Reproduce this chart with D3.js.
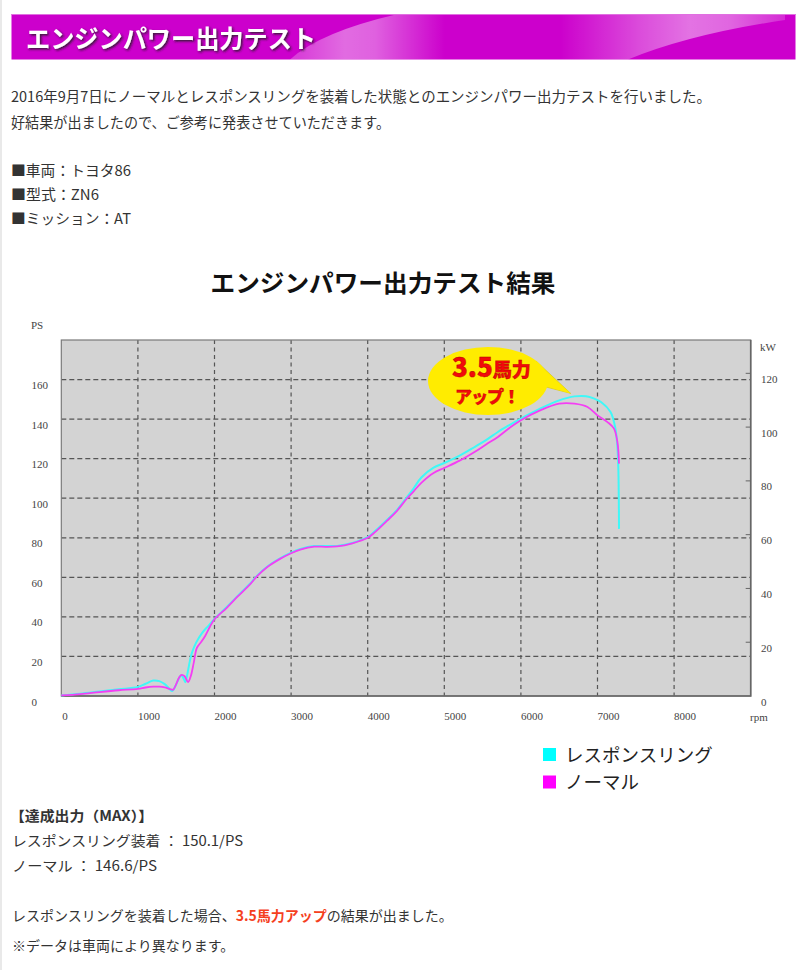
<!DOCTYPE html>
<html>
<head>
<meta charset="utf-8">
<script src="https://cdn.jsdelivr.net/npm/d3@7"></script>
<style>
  html, body { margin: 0; padding: 0; background: #fff; }
  svg { display: block; }
</style>
</head>
<body>
<div id="chart"></div>
<script>
// ---------------- data ----------------
const rpmTicks = [0, 1000, 2000, 3000, 4000, 5000, 6000, 7000, 8000];
const psTicks = [0, 20, 40, 60, 80, 100, 120, 140, 160];
const kwTicks = [0, 20, 40, 60, 80, 100, 120];
const seriesNames = ["レスポンスリング", "ノーマル"];
const seriesColors = ["#3ff8f8", "#f43ef4"];
const legendColors = ["#00ffff", "#ff00ff"];

// レスポンスリング (rpm, PS)
const ringRpm = [0,250,500,750,1000,1100,1200,1280,1350,1400,1445,1490,1530,1565,1595,1620,1650,1680,1705,1760,1835,1920,2000,2160,2300,2470,2560,2690,2850,3000,3120,3300,3450,3600,3800,4000,4100,4250,4380,4515,4600,4700,4860,5000,5200,5400,5550,5700,5850,6000,6250,6500,6700,6850,6950,7050,7170,7230,7258,7272,7278,7281];
const ringPs  = [0.3,1.2,2.3,3.4,4.6,6.2,7.8,7.5,6,4.2,2.5,5,8.5,10.5,9,7,12,18,21.8,27,31.7,35.5,39,45,50.5,57,61,65.5,69.5,72.5,74.3,75.8,75.8,75.9,77.4,80.3,83.5,89,94,100.7,105,110.5,115.5,117.8,121.5,126,129.5,133.5,137,140.3,145.3,149.5,151.5,151.6,150.5,148.5,143.6,136,127,115,100,84.5];

// ノーマル (rpm, PS)
const normalRpm = [0,250,500,750,1000,1100,1200,1280,1350,1420,1460,1500,1540,1570,1610,1655,1690,1730,1770,1830,1880,1940,2000,2160,2300,2470,2560,2690,2850,3000,3120,3300,3450,3600,3800,4000,4100,4250,4380,4515,4600,4700,4860,5000,5200,5400,5550,5700,5850,6000,6250,6500,6700,6870,7000,7130,7215,7260,7281];
const normalPs  = [0.3,1,2,2.9,3.6,4.3,4.7,4.7,4.3,3.5,3.2,6,9.5,10.7,10,7,10,17,24.3,27.5,30.5,35,38.8,44.6,50.2,56.7,60.7,65.2,69.2,72.2,74,75.5,75.4,75.6,77.2,80,83,88.5,93.5,100,103.5,107.8,112.8,115.3,119,123.5,127.3,131,135.5,139.4,144.4,147.8,147.8,146.1,141.9,138.5,135.2,128.4,117.5];

const maxRing = "150.1";
const maxNormal = "146.6";

// ---------------- page ----------------
const W = 800, H = 970;
const svg = d3.select("#chart").append("svg")
  .attr("width", W).attr("height", H)
  .style("font-family", "'Noto Sans CJK JP', 'Noto Sans', sans-serif");

const defs = svg.append("defs");
function hGrad(id, stops) {
  const gr = defs.append("linearGradient").attr("id", id)
    .attr("gradientUnits", "userSpaceOnUse")
    .attr("x1", 0).attr("y1", 0).attr("x2", 800).attr("y2", 0);
  stops.forEach(([o, a]) => gr.append("stop").attr("offset", o / 800)
    .attr("stop-color", "#ffffff").attr("stop-opacity", a));
}
hGrad("swooshA", [[300, 0.25], [345, 0.42], [375, 0.38], [445, 0]]);
hGrad("swooshB", [[560, 0], [640, 0.3], [690, 0.45], [730, 0.4], [790, 0.15]]);

const shadow = defs.append("filter").attr("id", "tshadow")
  .attr("x", "-5%").attr("y", "-20%").attr("width", "115%").attr("height", "160%");
shadow.append("feDropShadow").attr("dx", 1.5).attr("dy", 1.5).attr("stdDeviation", 0.8)
  .attr("flood-color", "#222").attr("flood-opacity", 0.85);

// faint page border
svg.append("line").attr("x1", 1).attr("x2", 1).attr("y1", 0).attr("y2", H)
  .attr("stroke", "#e2e2e2").attr("stroke-width", 1.5);

// banner
svg.append("rect").attr("x", 11.5).attr("y", 14).attr("width", 784).attr("height", 45.5)
  .attr("fill", "#cc00cc");
svg.append("path")
  .attr("d", "M290,59.5 Q320,32 398,14 L795.5,14 L795.5,59.5 Z")
  .attr("fill", "url(#swooshA)");
svg.append("path")
  .attr("d", "M555,14 L785,14 L785,20 Q690,34 628,59.5 L555,59.5 Z")
  .attr("fill", "url(#swooshB)");
svg.append("line").attr("x1", 11.5).attr("x2", 795.5).attr("y1", 14.5).attr("y2", 14.5)
  .attr("stroke", "#e070e0").attr("stroke-width", 1);
svg.append("text").attr("x", 26).attr("y", 48)
  .attr("fill", "#fff").attr("font-size", 25).attr("font-weight", 700)
  .attr("filter", "url(#tshadow)")
  .attr("textLength", 290).attr("lengthAdjust", "spacingAndGlyphs")
  .text("エンジンパワー出力テスト");

// intro texts
const introLines = [
  { t: "2016年9月7日にノーマルとレスポンスリングを装着した状態とのエンジンパワー出力テストを行いました。", y: 102, w: 700 },
  { t: "好結果が出ましたので、ご参考に発表させていただきます。", y: 128, w: 379 },
  { t: "■車両：トヨタ86", y: 176, w: 120 },
  { t: "■型式：ZN6", y: 200, w: 88 },
  { t: "■ミッション：AT", y: 224, w: 120 }
];
svg.selectAll("text.intro").data(introLines).join("text")
  .attr("class", "intro")
  .attr("x", 11).attr("y", d => d.y)
  .attr("font-size", 14.5).attr("fill", "#333")
  .attr("textLength", d => d.w).attr("lengthAdjust", "spacingAndGlyphs")
  .text(d => d.t);

// chart title
svg.append("text").attr("x", 383).attr("y", 292)
  .attr("text-anchor", "middle").attr("font-size", 24).attr("font-weight", 700).attr("fill", "#111")
  .attr("textLength", 345).attr("lengthAdjust", "spacingAndGlyphs")
  .text("エンジンパワー出力テスト結果");

// ---------------- chart ----------------
const x = d3.scaleLinear().domain([0, 9000]).range([61.3, 750.7]);
const y = d3.scaleLinear().domain([0, 180]).range([696, 340]);
const yKw = d3.scaleLinear().domain([0, 180 * 0.7355]).range([696, 340]);

const serif = "'Liberation Serif', 'DejaVu Serif', serif";

svg.append("rect")
  .attr("x", x(0)).attr("y", y(180))
  .attr("width", x(9000) - x(0)).attr("height", y(0) - y(180))
  .attr("fill", "#d3d3d3");

// grid
const g = svg.append("g");
g.selectAll("line.vg").data(rpmTicks.filter(d => d > 0)).join("line")
  .attr("class", "vg")
  .attr("x1", d => x(d)).attr("x2", d => x(d))
  .attr("y1", y(180)).attr("y2", y(0))
  .attr("stroke", "#555").attr("stroke-width", 1.2).attr("stroke-dasharray", "4,3.5");
g.selectAll("line.hg").data(psTicks.filter(d => d > 0)).join("line")
  .attr("class", "hg")
  .attr("x1", x(0)).attr("x2", x(9000))
  .attr("y1", d => y(d)).attr("y2", d => y(d))
  .attr("stroke", "#555").attr("stroke-width", 1.3).attr("stroke-dasharray", "5,3");

// frame
svg.append("rect")
  .attr("x", x(0)).attr("y", y(180))
  .attr("width", x(9000) - x(0)).attr("height", y(0) - y(180))
  .attr("fill", "none").attr("stroke", "#7a7a7a").attr("stroke-width", 1.2);
svg.append("path")
  .attr("d", `M${x(9000)},${y(180)}V${y(0)}H${x(0)}`)
  .attr("fill", "none").attr("stroke", "#666").attr("stroke-width", 1.6);

// right kW ticks
svg.selectAll("line.kwt").data(kwTicks.filter(d => d > 0)).join("line")
  .attr("class", "kwt")
  .attr("x1", x(9000) - 5).attr("x2", x(9000))
  .attr("y1", d => yKw(d)).attr("y2", d => yKw(d))
  .attr("stroke", "#666").attr("stroke-width", 1);

// axis labels
const axisText = { "font-family": serif, "font-size": 11, "fill": "#444" };
function styleAxis(sel) { Object.entries(axisText).forEach(([k, v]) => sel.attr(k, v)); return sel; }

styleAxis(svg.selectAll("text.psl").data(psTicks).join("text")
  .attr("class", "psl")
  .attr("x", 31.5).attr("y", d => y(d) + 9.5)
  .text(d => d));
styleAxis(svg.append("text").attr("x", 31).attr("y", 329).text("PS"));

styleAxis(svg.selectAll("text.kwl").data(kwTicks).join("text")
  .attr("class", "kwl")
  .attr("x", 761).attr("y", d => yKw(d) + 9.5)
  .text(d => d));
styleAxis(svg.append("text").attr("x", 760).attr("y", 351).text("kW"));

styleAxis(svg.selectAll("text.rpml").data(rpmTicks).join("text")
  .attr("class", "rpml")
  .attr("x", d => x(d) + (d === 0 ? 1 : 0)).attr("y", 720)
  .text(d => d));
styleAxis(svg.append("text").attr("x", 750).attr("y", 720.5).text("rpm"));

// curves
const line = d3.line().curve(d3.curveCatmullRom.alpha(0.5))
  .x(d => x(d[0])).y(d => y(d[1]));
const ringData = ringRpm.map((r, i) => [r, ringPs[i]]);
const normalData = normalRpm.map((r, i) => [r, normalPs[i]]);

svg.append("path").datum(ringData).attr("d", line)
  .attr("fill", "none").attr("stroke", seriesColors[0]).attr("stroke-width", 2)
  .attr("stroke-linejoin", "round");
svg.append("path").datum(normalData).attr("d", line)
  .attr("fill", "none").attr("stroke", seriesColors[1]).attr("stroke-width", 1.8)
  .attr("stroke-linejoin", "round");

// callout bubble
const cx = 488, cy = 381;
const bubble = svg.append("g");
bubble.append("path")
  .attr("d", `M${cx + 48},${cy - 20} L${x(6650)},${y(153)} L${cx + 58},${cy + 6} Z`)
  .attr("fill", "#ffec00").attr("stroke", "#d9c400").attr("stroke-width", 0.6);
bubble.append("ellipse").attr("cx", cx).attr("cy", cy).attr("rx", 60).attr("ry", 34)
  .attr("fill", "#ffec00");
bubble.append("path")
  .attr("d", `M${cx + 47},${cy - 19} L${x(6650)},${y(153)} L${cx + 57},${cy + 5} Z`)
  .attr("fill", "#ffec00");
const ct = bubble.append("text").attr("x", 452).attr("y", 377)
  .attr("fill", "#f20a0a").attr("font-weight", 900)
  .attr("stroke", "#b00000").attr("stroke-width", 0.4);
ct.append("tspan").attr("font-size", 26).text("3.5");
ct.append("tspan").attr("font-size", 19).text("馬力");
bubble.append("text").attr("x", 455).attr("y", 403)
  .attr("fill", "#f20a0a").attr("font-weight", 900).attr("font-size", 17)
  .attr("stroke", "#b00000").attr("stroke-width", 0.3)
  .attr("textLength", 65).attr("lengthAdjust", "spacing")
  .text("アップ！");

// legend
const leg = svg.selectAll("g.leg").data(seriesNames).join("g")
  .attr("class", "leg")
  .attr("transform", (d, i) => `translate(543,${748 + i * 27.5})`);
leg.append("rect").attr("width", 13).attr("height", 13)
  .attr("fill", (d, i) => legendColors[i]);
leg.append("text").attr("x", 22).attr("y", 13.5)
  .attr("font-size", 18.5).attr("fill", "#222")
  .text(d => d);

// results text
const res = [
  { t: "【達成出力（MAX）】", y: 821, bold: true, w: 143 },
  { t: `レスポンスリング装着 ： ${maxRing}/PS`, y: 846, w: 231 },
  { t: `ノーマル ： ${maxNormal}/PS`, y: 871, w: 145 }
];
svg.selectAll("text.res").data(res).join("text")
  .attr("class", "res")
  .attr("x", d => d.bold ? 10 : 12).attr("y", d => d.y)
  .attr("font-size", 14).attr("fill", "#333")
  .attr("font-weight", d => d.bold ? 700 : 400)
  .attr("textLength", d => d.w).attr("lengthAdjust", "spacingAndGlyphs")
  .text(d => d.t);

const concl = svg.append("text").attr("x", 12).attr("y", 921)
  .attr("font-size", 14).attr("fill", "#333");
concl.append("tspan").text("レスポンスリングを装着した場合、");
concl.append("tspan").attr("fill", "#f5401e").attr("font-weight", 700).text("3.5馬力アップ");
concl.append("tspan").text("の結果が出ました。");

svg.append("text").attr("x", 12).attr("y", 951)
  .attr("font-size", 14).attr("fill", "#333")
  .text("※データは車両により異なります。");
</script>
</body>
</html>
